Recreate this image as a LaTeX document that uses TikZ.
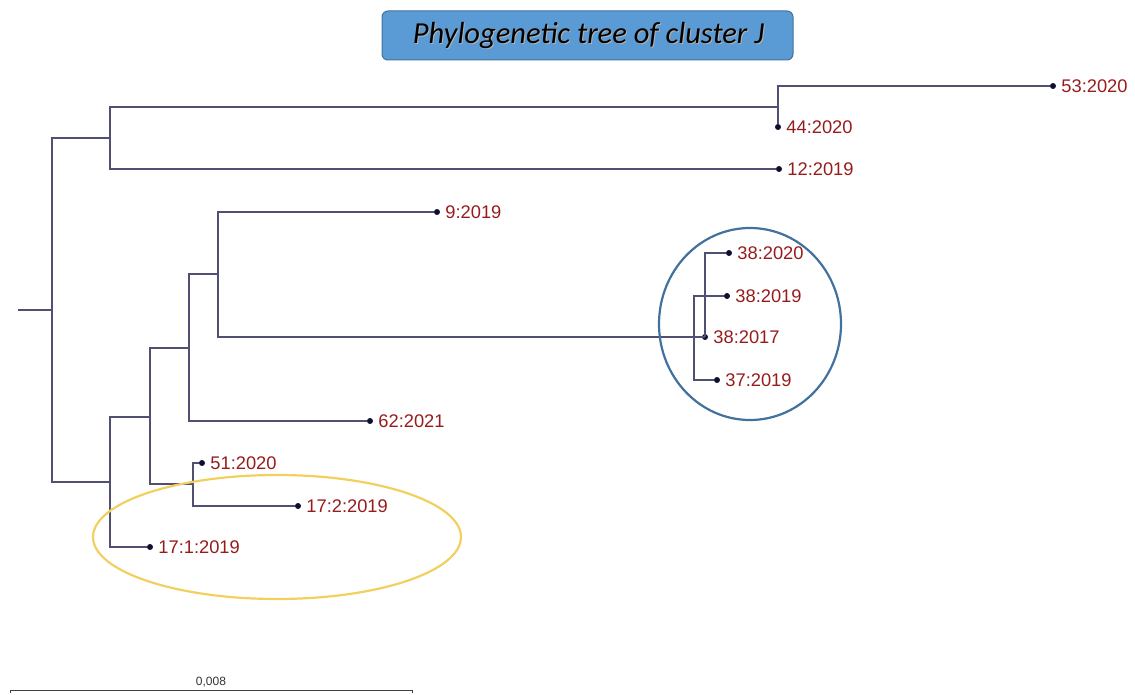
\documentclass[tikz,border=0pt]{standalone}
\usepackage{fontspec}
\setmainfont{Liberation Sans}
\newfontfamily\titlefont{Carlito}
\definecolor{branch}{RGB}{80,80,115}
\definecolor{dotc}{RGB}{15,15,50}
\definecolor{labc}{RGB}{150,28,28}
\definecolor{titlefill}{RGB}{91,155,213}
\definecolor{titleedge}{RGB}{65,113,156}
\definecolor{ringblue}{RGB}{65,113,156}
\definecolor{ringgold}{RGB}{242,208,96}
\tikzset{
  br/.style={draw=branch, line width=1.1pt},
  leaf/.style={circle, fill=dotc, inner sep=0pt, minimum size=6pt},
  lab/.style={anchor=west, text=labc, font=\fontsize{18.3}{20}\selectfont, inner sep=0pt, xshift=5pt},
  ring/.style={line width=2.2pt},
}
\begin{document}
\begin{tikzpicture}[x=1pt,y=-1pt]
\useasboundingbox (0,0) rectangle (1135,695);
% title
\node[draw=titleedge, line width=1pt, fill=titlefill, rounded corners=6pt,
      minimum width=411pt, minimum height=49pt, inner sep=0pt] (title) at (587.5,35.5) {};
\node[text=black!30, font=\titlefont\itshape\fontsize{30.5}{33}\selectfont] (titleshadow) at (589.5,36.8) {Phylogenetic tree of cluster J};
\node[text=black, font=\titlefont\itshape\fontsize{30.5}{33}\selectfont] (titletext) at (588.5,35.5) {Phylogenetic tree of cluster J};

% internal nodes
\coordinate (rs) at (18,310);
\coordinate (root) at (52,310);
\coordinate (A) at (110,138);
\coordinate (B) at (778,107);
\coordinate (C) at (110,482);
\coordinate (D) at (150,417);
\coordinate (E) at (189,348);
\coordinate (F) at (218,274);
\coordinate (G) at (694,337);
\coordinate (H) at (705,337);
\coordinate (I) at (193,484);

% leaves
\node[leaf] (l53) at (1053,86) {};
\node[leaf] (l44) at (778,127) {};
\node[leaf] (l12) at (779,169) {};
\node[leaf] (l9) at (437,212) {};
\node[leaf] (l3820) at (729,253) {};
\node[leaf] (l3819) at (727,296) {};
\node[leaf] (l3817) at (H) {};
\node[leaf] (l3719) at (717,380) {};
\node[leaf] (l62) at (370,421) {};
\node[leaf] (l51) at (202,463) {};
\node[leaf] (l172) at (298,506) {};
\node[leaf] (l171) at (150,547) {};

% labels
\node[lab] (t53) at (l53.east) {53:2020};
\node[lab] (t44) at (l44.east) {44:2020};
\node[lab] (t12) at (l12.east) {12:2019};
\node[lab] (t9) at (l9.east) {9:2019};
\node[lab] (t3820) at (l3820.east) {38:2020};
\node[lab] (t3819) at (l3819.east) {38:2019};
\node[lab] (t3817) at (l3817.east) {38:2017};
\node[lab] (t3719) at (l3719.east) {37:2019};
\node[lab] (t62) at (l62.east) {62:2021};
\node[lab] (t51) at (l51.east) {51:2020};
\node[lab] (t172) at (l172.east) {17:2:2019};
\node[lab] (t171) at (l171.east) {17:1:2019};

% branches
\draw[br] (rs) -- (root);
\draw[br] (root) |- (A);
\draw[br] (root) |- (C);
\draw[br] (A) |- (B);
\draw[br] (A) |- (l12);
\draw[br] (B) |- (l53);
\draw[br] (B) -- (l44);
\draw[br] (C) |- (D);
\draw[br] (C) |- (l171);
\draw[br] (D) |- (E);
\draw[br] (D) |- (I);
\draw[br] (E) |- (F);
\draw[br] (E) |- (l62);
\draw[br] (F) |- (l9);
\draw[br] (F) |- (G);
\draw[br] (G) |- (l3819);
\draw[br] (G) |- (l3719);
\draw[br] (G) -- (H);
\draw[br] (H) |- (l3820);
\draw[br] (I) |- (l51);
\draw[br] (I) |- (l172);

% highlight rings
\draw[ring, draw=ringblue] (750,324) ellipse [x radius=91, y radius=96];
\draw[ring, draw=ringgold] (277,537) ellipse [x radius=184, y radius=62];

% scale bar
\coordinate (sb1) at (10,690);
\coordinate (sb2) at (412,690);
\draw[draw=black!75, line width=0.8pt] (sb1) -- (sb2);
\draw[draw=black!75, line width=0.8pt] (sb1) -- ++(0,3);
\draw[draw=black!75, line width=0.8pt] (sb2) -- ++(0,3);
\node[font=\fontsize{12}{13}\selectfont, text=black!80, anchor=south, inner sep=1pt] (sblab) at (211,688) {0,008};
\end{tikzpicture}
\end{document}
